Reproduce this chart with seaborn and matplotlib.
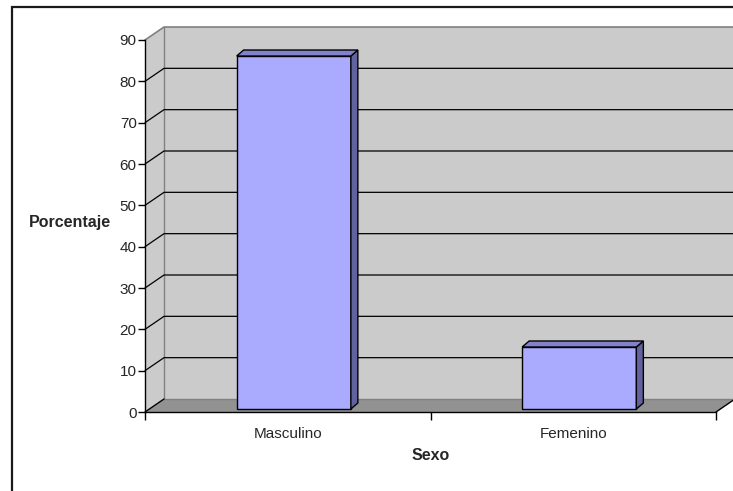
import matplotlib
matplotlib.use("Agg")
import matplotlib.pyplot as plt
import seaborn as sns
import pandas as pd
import numpy as np
from matplotlib.patches import Polygon, Rectangle

categories = ["Masculino", "Femenino"]
porcentajes = [85.4, 15.0]
y_ticks = [0, 10, 20, 30, 40, 50, 60, 70, 80, 90]

W, H = 733, 491
# front plane of the plot, in pixels (from top-left of image)
PX_LEFT, PX_RIGHT, PX_BOTTOM, PX_TOP = 145, 716, 412, 40
WALL_DX, WALL_DY = 19, 13      # depth of the 3d box
BAR_SHIFT_X, BAR_SHIFT_Y = 6, 3  # bars sit a bit inside the box
BAR_DX, BAR_DY = 7, 6          # depth of each bar

WALL = "#cbcbcb"
FLOOR = "#929292"
EDGE_GRAY = "#808080"
BAR_FRONT = "#aaaaff"
BAR_SIDE = "#62629e"
BAR_TOP = "#8282cc"

sns.set_style("white")
plt.rcParams["font.family"] = ["Liberation Sans", "DejaVu Sans"]

df = pd.DataFrame({"Sexo": categories, "Porcentaje": porcentajes})

fig = plt.figure(figsize=(W / 100, H / 100), dpi=100)
ax = fig.add_axes([PX_LEFT / W, (H - PX_BOTTOM) / H,
                   (PX_RIGHT - PX_LEFT) / W, (PX_BOTTOM - PX_TOP) / H])
ax.set_facecolor("none")
ax.set_xlim(-0.5, 1.5)
ax.set_ylim(0, 90)

# data units per pixel
ux = 2.0 / (PX_RIGHT - PX_LEFT)
uy = 90.0 / (PX_BOTTOM - PX_TOP)
wdx, wdy = WALL_DX * ux, WALL_DY * uy
x0, x1 = -0.5, 1.5

# back wall
ax.add_patch(Polygon([(x0 + wdx, wdy), (x1 + wdx + 0.2, wdy), (x1 + wdx + 0.2, 90 + wdy), (x0 + wdx, 90 + wdy)],
                     closed=True, fc=WALL, ec="none", zorder=0, clip_on=False))
# side wall
ax.add_patch(Polygon([(x0, 0), (x0 + wdx, wdy), (x0 + wdx, 90 + wdy), (x0, 90)],
                     closed=True, fc=WALL, ec="none", zorder=0, clip_on=False))
ax.plot([x0, x0 + wdx, x1 + wdx + 0.2], [90, 90 + wdy, 90 + wdy], color=EDGE_GRAY, lw=1.2, zorder=0.5, clip_on=False)
ax.plot([x0 + wdx, x0 + wdx], [wdy, 90 + wdy], color=EDGE_GRAY, lw=1.0, zorder=0.5, clip_on=False)

# gridlines
for v in y_ticks[1:-1]:
    ax.plot([x0, x0 + wdx, x1 + wdx + 0.2], [v, v + wdy, v + wdy], color="black", lw=0.9, zorder=1, clip_on=False)

# floor
ax.add_patch(Polygon([(x0, 0), (x1, 0), (x1 + wdx, wdy), (x0 + wdx, wdy)],
                     closed=True, fc=FLOOR, ec="none", zorder=1.5, clip_on=False))
ax.plot([x0 + wdx, x1 + wdx], [wdy, wdy], color=EDGE_GRAY, lw=1.0, zorder=1.6, clip_on=False)
ax.plot([x0, x0 + wdx], [0, wdy], color="black", lw=1.0, zorder=1.7, clip_on=False)
ax.plot([x1, x1 + wdx], [0, wdy], color="black", lw=1.0, zorder=1.7, clip_on=False)

# bars
sns.barplot(data=df, x="Sexo", y="Porcentaje", width=0.4, color=BAR_FRONT,
            saturation=1, edgecolor="black", linewidth=1.0, zorder=3, ax=ax)
sx, sy = BAR_SHIFT_X * ux, BAR_SHIFT_Y * uy
bdx, bdy = BAR_DX * ux, BAR_DY * uy
for p in ax.patches:
    if p.get_zorder() != 3:
        continue
    bx, bw, bh = p.get_x() + sx, p.get_width(), p.get_height()
    p.set_x(bx)
    p.set_y(sy)
    top = sy + bh
    ax.add_patch(Polygon([(bx + bw, sy), (bx + bw + bdx, sy + bdy), (bx + bw + bdx, top + bdy), (bx + bw, top)],
                         closed=True, fc=BAR_SIDE, ec="black", lw=1.0, zorder=3))
    ax.add_patch(Polygon([(bx, top), (bx + bw, top), (bx + bw + bdx, top + bdy), (bx + bdx, top + bdy)],
                         closed=True, fc=BAR_TOP, ec="black", lw=1.0, zorder=3))

# axes styling
for s in ["top", "right"]:
    ax.spines[s].set_visible(False)
for s in ["left", "bottom"]:
    ax.spines[s].set_color("black")
    ax.spines[s].set_linewidth(1.0)
    ax.spines[s].set_zorder(2)
ax.set_yticks(y_ticks)
ax.set_yticklabels([str(v) for v in y_ticks], fontsize=11)
ax.tick_params(axis="y", direction="out", length=5, width=1, color="black", pad=1, left=True)
ax.set_xticks([-0.5, 0.5, 1.5])
ax.set_xticklabels(["", "", ""])
ax.set_xticks([0, 1], minor=True)
ax.set_xticklabels(categories, minor=True, fontsize=11)
ax.tick_params(axis="x", which="major", direction="out", length=6, width=1, color="black", bottom=True)
ax.tick_params(axis="x", which="minor", length=0, pad=10.5)

ax.set_xlabel("Sexo", fontsize=11.5, fontweight="bold", va="center")
ax.xaxis.set_label_coords(0.5, -(456 - PX_BOTTOM) / (PX_BOTTOM - PX_TOP))
ax.set_ylabel("Porcentaje", fontsize=11.5, fontweight="bold", rotation=0, ha="center", va="center")
ax.yaxis.set_label_coords((70 - PX_LEFT) / (PX_RIGHT - PX_LEFT), (PX_BOTTOM - 222) / (PX_BOTTOM - PX_TOP))

# chart border (cropped on the right and bottom)
fig.patches.append(Rectangle((11.5 / W, -0.1), 1.2, (H - 6.5) / H + 0.1, transform=fig.transFigure,
                             fill=False, ec="#1a1a1a", lw=1.6))

fig.savefig("out.png", dpi=100)
